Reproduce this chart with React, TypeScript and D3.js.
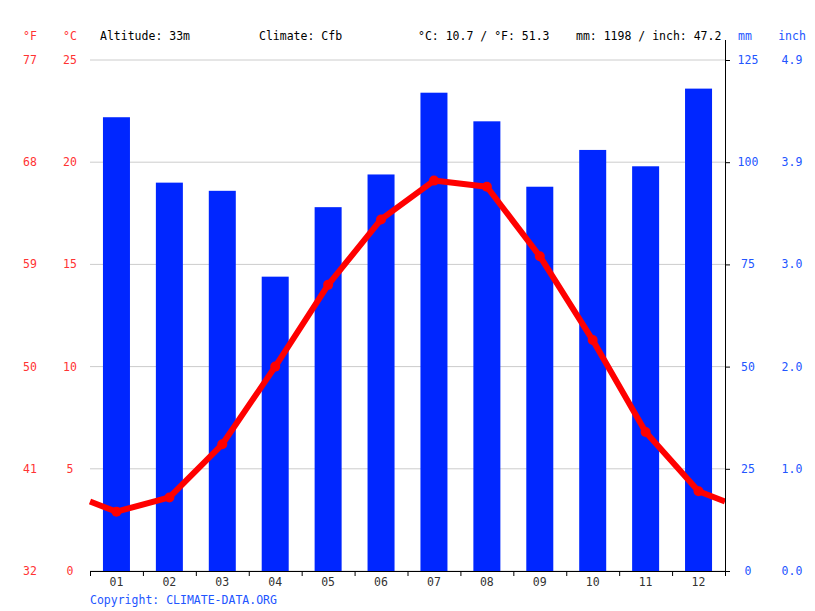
import React from "react";
import * as d3 from "d3";

const months = ["01", "02", "03", "04", "05", "06", "07", "08", "09", "10", "11", "12"];
const precipitation = [111, 95, 93, 72, 89, 97, 117, 110, 94, 103, 99, 118];
const temperature = [2.9, 3.6, 6.2, 10.0, 14.0, 17.2, 19.1, 18.8, 15.4, 11.3, 6.8, 3.9];
const celsiusTicks = [0, 5, 10, 15, 20, 25];
const fahrenheitLabels = ["32", "41", "50", "59", "68", "77"];
const mmTicks = [0, 25, 50, 75, 100, 125];
const inchLabels = ["0.0", "1.0", "2.0", "3.0", "3.9", "4.9"];

const W = 815, H = 611;
const left = 90, right = 725, top = 60, bottom = 571;
const FONT = "'DejaVu Sans Mono', monospace";
const RED = "#ff0000";
const REDTXT = "#ff3333";
const BLUE = "#0026ff";
const BLUETXT = "#2255ff";

export default function App() {
  const x = d3.scaleBand<string>().domain(months).range([left, right]);
  const yT = d3.scaleLinear().domain([0, 25]).range([bottom, top]);
  const yP = d3.scaleLinear().domain([0, 125]).range([bottom, top]);
  const cx = (m: string) => (x(m) as number) + x.bandwidth() / 2;
  const edge = (temperature[0] + temperature[11]) / 2;
  const pts: [number, number][] = [
    [left, yT(edge)],
    ...months.map((m, i) => [cx(m), yT(temperature[i])] as [number, number]),
    [right, yT(edge)],
  ];
  const line = d3.line();
  const barW = 27;
  return (
    <svg width={W} height={H} style={{ position: "absolute", left: 0, top: 0, background: "#fff" }} fontFamily={FONT} fontSize={11.5}>
      {celsiusTicks.map((t) => (
        <line key={"g" + t} x1={left} x2={right} y1={yT(t)} y2={yT(t)} stroke="#cccccc" strokeWidth={1} />
      ))}
      {months.map((m, i) => (
        <rect key={"b" + m} x={cx(m) - barW / 2} width={barW} y={yP(precipitation[i])} height={bottom - yP(precipitation[i])} fill={BLUE} />
      ))}
      <path d={line(pts) as string} fill="none" stroke={RED} strokeWidth={6} strokeLinejoin="round" />
      {months.map((m, i) => (
        <circle key={"c" + m} cx={cx(m)} cy={yT(temperature[i])} r={5} fill={RED} />
      ))}
      {/* bottom axis */}
      <line x1={left} x2={right} y1={bottom + 0.5} y2={bottom + 0.5} stroke="#000" />
      {[...months.map((m) => x(m) as number), right].map((v, i) => (
        <line key={"t" + i} x1={v + 0.5} x2={v + 0.5} y1={bottom} y2={bottom + 5} stroke="#000" />
      ))}
      {months.map((m) => (
        <text key={"l" + m} x={cx(m)} y={bottom + 15} textAnchor="middle" fill="#333">{m}</text>
      ))}
      {/* right axis */}
      <line x1={right + 0.5} x2={right + 0.5} y1={40} y2={bottom} stroke="#000" />
      {mmTicks.map((t, i) => (
        <g key={"r" + t}>
          <line x1={right} x2={right + 5} y1={yP(t) + 0.5} y2={yP(t) + 0.5} stroke="#000" />
          <text x={748} y={yP(t) + 4} textAnchor="middle" fill={BLUETXT}>{t}</text>
          <text x={792} y={yP(t) + 4} textAnchor="middle" fill={BLUETXT}>{inchLabels[i]}</text>
        </g>
      ))}
      {celsiusTicks.map((t, i) => (
        <g key={"lt" + t}>
          <text x={70} y={yT(t) + 4} textAnchor="middle" fill={REDTXT}>{t}</text>
          <text x={30} y={yT(t) + 4} textAnchor="middle" fill={REDTXT}>{fahrenheitLabels[i]}</text>
        </g>
      ))}
      <text x={30} y={40} textAnchor="middle" fill={REDTXT}>°F</text>
      <text x={70} y={40} textAnchor="middle" fill={REDTXT}>°C</text>
      <text x={745} y={40} textAnchor="middle" fill={BLUETXT}>mm</text>
      <text x={792} y={40} textAnchor="middle" fill={BLUETXT}>inch</text>
      <text x={100} y={40} fill="#000">Altitude: 33m</text>
      <text x={259} y={40} fill="#000">Climate: Cfb</text>
      <text x={418} y={40} fill="#000">°C: 10.7 / °F: 51.3</text>
      <text x={576} y={40} fill="#000">mm: 1198 / inch: 47.2</text>
      <text x={90} y={604} fill={BLUETXT}>Copyright: CLIMATE-DATA.ORG</text>
    </svg>
  );
}
